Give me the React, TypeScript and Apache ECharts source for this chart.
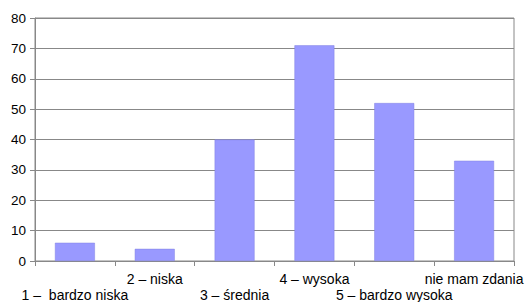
import React, { useEffect, useRef } from "react";
import * as echarts from "echarts";

const categories = [
  "1 –  bardzo niska",
  "2 – niska",
  "3 – średnia",
  "4 – wysoka",
  "5 – bardzo wysoka",
  "nie mam zdania",
];
const values = [6, 4, 40, 71, 52, 33];
const yMin = 0;
const yMax = 80;
const yInterval = 10;

export default function App() {
  const ref = useRef<HTMLDivElement>(null);
  useEffect(() => {
    if (!ref.current) return;
    const chart = echarts.init(ref.current, null, { renderer: "svg" });
    chart.setOption({
      animation: false,
      backgroundColor: "#ffffff",
      textStyle: { fontFamily: "Liberation Sans, Arial, sans-serif" },
      grid: {
        left: 35,
        right: 15,
        top: 18,
        bottom: 41,
        containLabel: false,
        outerBoundsMode: "none",
        show: true,
        borderColor: "#888888",
        borderWidth: 1,
      },
      xAxis: {
        type: "category",
        data: categories,
        axisLine: { lineStyle: { color: "#888888", width: 1 } },
        axisTick: { show: true, length: 5, alignWithLabel: false, lineStyle: { color: "#888888" } },
        axisLabel: {
          interval: 0,
          margin: 10,
          color: "#000000",
          fontSize: 14,
          lineHeight: 16,
          formatter: (v: string, i: number) => (i % 2 === 0 ? "\n" + v : v),
        },
      },
      yAxis: {
        type: "value",
        min: yMin,
        max: yMax,
        interval: yInterval,
        axisLine: { show: true, lineStyle: { color: "#888888", width: 1 } },
        axisTick: { show: true, length: 5, lineStyle: { color: "#888888" } },
        axisLabel: { color: "#000000", fontSize: 13.5, margin: 9 },
        splitLine: { lineStyle: { color: "#888888", width: 1 } },
      },
      series: [
        {
          type: "bar",
          data: values,
          barCategoryGap: "50%",
          itemStyle: { color: "#9999ff", borderColor: "#8080e0", borderWidth: 0.5 },
        },
      ],
    });
    return () => chart.dispose();
  }, []);
  return (
    <div
      ref={ref}
      style={{ position: "fixed", left: 0, top: 0, width: 529, height: 302 }}
    />
  );
}
